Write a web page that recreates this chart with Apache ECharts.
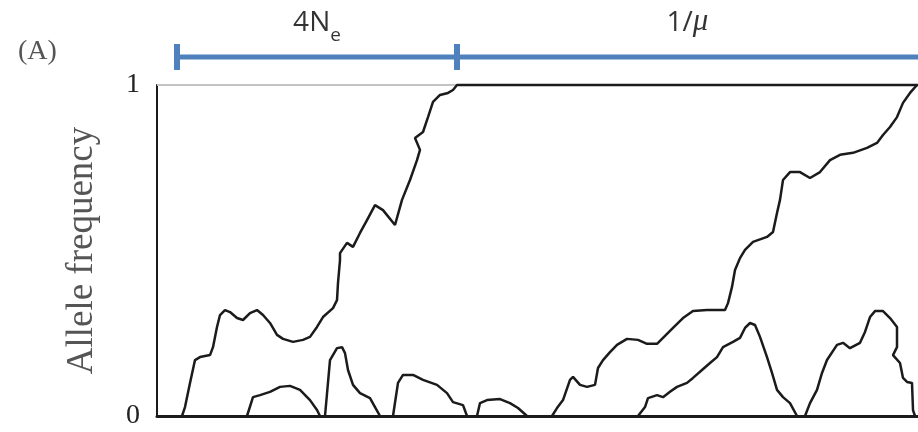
<!DOCTYPE html>
<html>
<head>
<meta charset="utf-8">
<script src="https://cdn.jsdelivr.net/npm/echarts@6/dist/echarts.min.js"></script>
<style>html,body{margin:0;padding:0;background:#fff}#c{width:918px;height:432px}</style>
</head>
<body>
<div id="c"></div>
<script>
// time axis (arbitrary generations), allele frequency 0..1
const TIME_MAX = 761;
const yTicks = ['0', '1'];

// trajectories: [time, frequency]
const traj1 = [[25,0],[28,0.027],[33,0.100],[38,0.169],[43,0.178],[53,0.184],[56,0.208],[60,0.269],[63,0.305],[68,0.320],[73,0.314],[80,0.296],[86,0.290],[93,0.311],[100,0.320],[106,0.305],[113,0.281],[120,0.245],[126,0.233],[136,0.224],[146,0.230],[153,0.239],[160,0.269],[166,0.299],[176,0.326],[180,0.350],[181,0.402],[183,0.471],[183,0.492],[190,0.523],[196,0.511],[203,0.553],[210,0.592],[218,0.637],[226,0.622],[238,0.577],[245,0.653],[253,0.713],[260,0.773],[263,0.804],[258,0.840],[266,0.858],[271,0.903],[276,0.949],[283,0.970],[291,0.976],[296,0.985],[300,1],[761,1]];
const traj2 = [[90,0],[96,0.057],[103,0.063],[113,0.073],[123,0.088],[133,0.091],[143,0.079],[153,0.048],[160,0.018],[163,0]];
const traj3 = [[168,0],[173,0.169],[180,0.205],[185,0.208],[188,0.190],[191,0.139],[196,0.094],[203,0.069],[213,0.054],[218,0.027],[223,0]];
const traj4 = [[236,0],[241,0.100],[246,0.124],[256,0.124],[266,0.109],[280,0.094],[290,0.069],[296,0.042],[306,0.033],[310,0]];
const traj5 = [[320,0],[323,0.039],[330,0.048],[343,0.051],[353,0.039],[361,0.024],[370,0]];
const traj6 = [[395,0],[400,0.024],[406,0.048],[413,0.109],[416,0.118],[423,0.094],[430,0.088],[438,0.094],[441,0.145],[446,0.169],[453,0.193],[460,0.215],[470,0.233],[481,0.230],[490,0.218],[500,0.218],[506,0.236],[516,0.266],[526,0.296],[536,0.317],[550,0.320],[568,0.320],[571,0.341],[575,0.390],[578,0.441],[583,0.477],[588,0.502],[596,0.526],[610,0.541],[616,0.556],[620,0.613],[623,0.653],[626,0.713],[633,0.737],[643,0.737],[653,0.719],[663,0.737],[673,0.773],[683,0.789],[696,0.795],[710,0.810],[720,0.825],[726,0.849],[733,0.873],[740,0.903],[746,0.946],[753,0.976],[760,1]];
const traj7 = [[481,0],[488,0.027],[491,0.054],[500,0.063],[506,0.057],[513,0.073],[520,0.088],[530,0.100],[536,0.115],[545,0.139],[553,0.160],[560,0.178],[566,0.208],[576,0.224],[583,0.236],[588,0.266],[593,0.281],[598,0.275],[603,0.239],[610,0.178],[615,0.130],[620,0.079],[626,0.057],[633,0.039],[640,0]];
const traj8 = [[648,0],[653,0.039],[660,0.079],[665,0.130],[670,0.169],[680,0.215],[686,0.221],[693,0.205],[703,0.221],[708,0.254],[713,0.299],[718,0.317],[726,0.317],[733,0.296],[740,0.269],[740,0.208],[736,0.184],[743,0.160],[746,0.115],[750,0.103],[755,0.100],[756,0.018],[758,0]];
const trajectories = [traj1, traj2, traj3, traj4, traj5, traj6, traj7, traj8];

// time-scale annotations
const spanNames = ['{n|4N}{s|e}', '{n|1/}{m|μ}'];
const spanStart = [20, 300];
const spanEnd = [300, 761];
const spanCaps = [true, false];

const chart = echarts.init(document.getElementById('c'), null, {renderer: 'canvas'});
const serif = '"Liberation Serif", "DejaVu Serif", serif';
const sans = '"Open Sans", "Noto Sans", sans-serif';

const series = [];
// faint top frame
series.push({type: 'line', xAxisIndex: 0, yAxisIndex: 0, data: [[0,1],[300,1]], showSymbol: false, symbol: 'none', clip: false,
  lineStyle: {color: '#c4c4c4', width: 2}, silent: true, z: 1});
trajectories.forEach(function (d) {
  series.push({type: 'line', xAxisIndex: 0, yAxisIndex: 0, data: d, symbol: 'none', clip: false,
    lineStyle: {color: '#1b1b1b', width: 2.5}, silent: true, z: 3});
});
spanStart.forEach(function (s, i) {
  series.push({type: 'line', xAxisIndex: 1, yAxisIndex: 1, data: [[s,0.5],[spanEnd[i],0.5]], clip: false,
    symbol: spanCaps[i] ? 'rect' : 'none', symbolSize: [6, 26], showSymbol: spanCaps[i],
    itemStyle: {color: '#4F81BD'}, lineStyle: {color: '#4F81BD', width: 5}, silent: true});
});
series.push({type: 'scatter', xAxisIndex: 1, yAxisIndex: 1, symbolSize: 0, silent: true,
  data: spanStart.map(function (s, i) { return {value: [(s + spanEnd[i]) / 2, 0.5], name: spanNames[i]}; }),
  label: {show: true, position: 'top', distance: 12, formatter: function (p) { return p.name; },
    fontFamily: sans, fontSize: 28, color: '#000',
    rich: {
      n: {fontFamily: sans, fontSize: 28, color: '#000', verticalAlign: 'bottom', padding: [0, 0, 8, 0]},
      s: {fontFamily: sans, fontSize: 19, color: '#000', verticalAlign: 'bottom'},
      m: {fontFamily: serif, fontStyle: 'italic', fontSize: 31, color: '#000', verticalAlign: 'bottom', padding: [0, 0, 8, 0]}
    }}});

chart.setOption({
  animation: false,
  backgroundColor: '#fff',
  title: {text: '(A)', left: 13, top: 33, textStyle: {fontFamily: serif, fontSize: 28, fontWeight: 'normal', color: '#555'}},
  grid: [
    {left: 157, right: 0, top: 85, bottom: 16, containLabel: false},
    {left: 157, right: 0, top: 44, height: 26, containLabel: false}
  ],
  xAxis: [
    {type: 'value', gridIndex: 0, min: 0, max: TIME_MAX, axisLine: {show: true, onZero: false, lineStyle: {color: '#1b1b1b', width: 3}},
      axisTick: {show: false}, axisLabel: {show: false}, splitLine: {show: false}},
    {type: 'value', gridIndex: 1, min: 0, max: TIME_MAX, show: false}
  ],
  yAxis: [
    {type: 'value', gridIndex: 0, min: 0, max: 1, interval: 1,
      axisLine: {show: true, lineStyle: {color: '#1b1b1b', width: 2}}, axisTick: {show: false}, splitLine: {show: false},
      axisLabel: {margin: 17, fontFamily: serif, fontSize: 28, color: '#222', formatter: function (v) { return yTicks[v]; }},
      name: 'Allele frequency', nameLocation: 'middle', nameGap: 56,
      nameTextStyle: {fontFamily: serif, fontSize: 37, color: '#555'}},
    {type: 'value', gridIndex: 1, min: 0, max: 1, show: false}
  ],
  series: series
});
</script>
</body>
</html>
